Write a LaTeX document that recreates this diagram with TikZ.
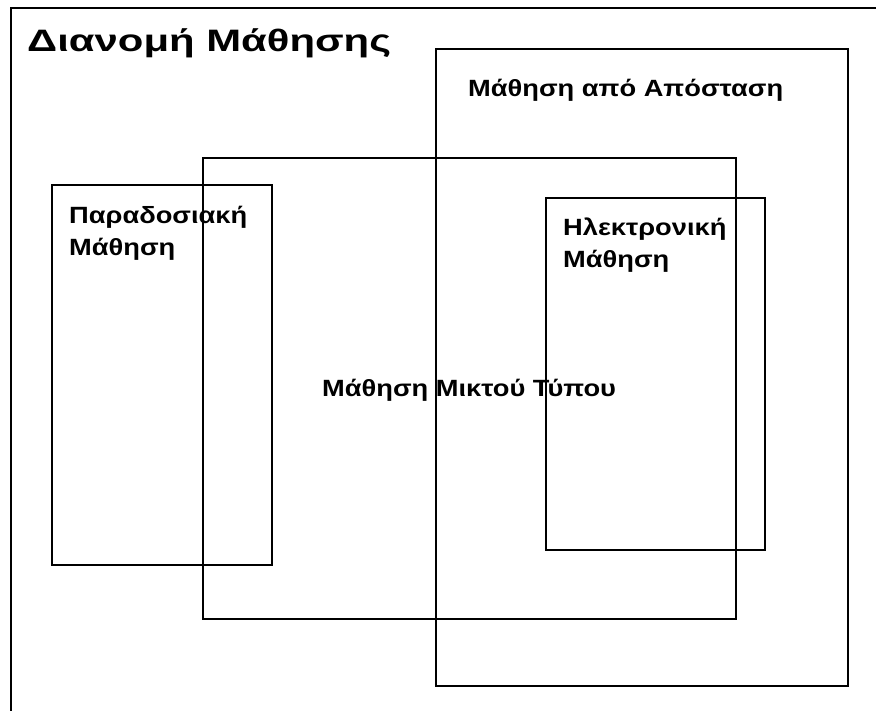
\documentclass[tikz,border=0pt]{standalone}
\usepackage{fontspec}
\setmainfont{Liberation Sans}
\newfontfamily\lblfont[FakeStretch=1.16]{Liberation Sans Bold}
\newfontfamily\ttlfont[FakeStretch=1.35]{Liberation Sans Bold}
\begin{document}
\begin{tikzpicture}[x=1pt,y=-1pt,
  box/.style={draw=black,line width=1.8pt},
  lbl/.style={anchor=base west,inner sep=0pt,font=\lblfont\fontsize{23.5}{27}\selectfont},
  ttl/.style={anchor=base west,inner sep=0pt,font=\ttlfont\fontsize{31}{35}\selectfont}]
\useasboundingbox (0,0) rectangle (876,711);
\fill[white] (0,0) rectangle (876,711);
\draw[box] (11,711) -- (11,8) -- (876,8);
\draw[box] (436,49) rectangle (848,686);
\draw[box] (203,158) rectangle (736,619);
\draw[box] (52,185) rectangle (272,565);
\draw[box] (546,198) rectangle (765,550);
\node[ttl] (title) at (27,52) {Διανομή Μάθησης};
\node[lbl] (dist) at (468,97) {Μάθηση από Απόσταση};
\node[lbl] (trad1) at (69,224) {Παραδοσιακή};
\node[lbl] (trad2) at (69,256) {Μάθηση};
\node[lbl] (el1) at (563,236) {Ηλεκτρονική};
\node[lbl] (el2) at (563,268) {Μάθηση};
\node[lbl] (blend) at (322,397) {Μάθηση Μικτού Τύπου};
\end{tikzpicture}
\end{document}
